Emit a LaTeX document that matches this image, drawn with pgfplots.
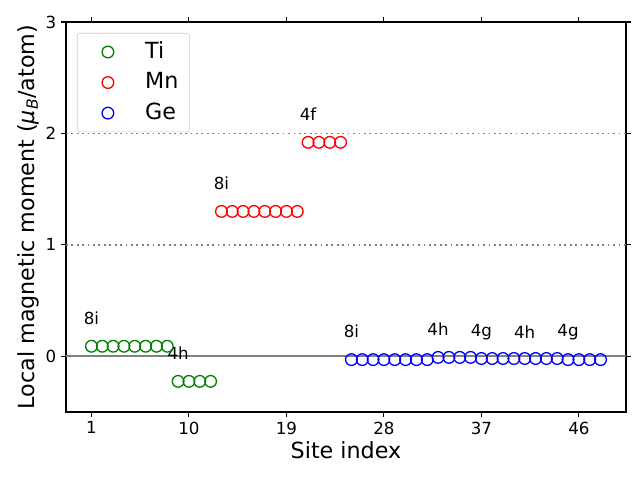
\documentclass[border=0pt]{standalone}
\usepackage{pgfplots}
\pgfplotsset{compat=1.18}
\usepackage{fontspec}
\setmainfont{DejaVu Sans}
\begin{document}
\begin{tikzpicture}
\path[use as bounding box] (-47.52pt,-48.96pt) rectangle (413.28pt,296.64pt);
\begin{axis}[
  at={(0,0)}, anchor=south west,
  scale only axis,
  width=403.2pt, height=280.8pt,
  xmin=-1.35, xmax=50.35, ymin=-0.5, ymax=3,
  xtick={1,10,19,28,37,46},
  ytick={0,1,2,3},
  tick align=outside,
  major tick length=3.5pt,
  tick style={black, line width=0.8pt},
  axis line style={line width=0.8pt},
  ticklabel style={font=\fontsize{12}{14}\selectfont},
  /pgf/number format/assume math mode=true,
  xlabel={Site index},
  ylabel={Local magnetic moment (\textit{μ}\textsubscript{\textit{B}}/atom)},
  label style={font=\fontsize{16}{19}\selectfont},
  xlabel style={yshift=2pt},
  ylabel style={yshift=-2pt},
  legend image code/.code={\path (0pt,0pt) (40pt,0pt); \draw[#1] plot coordinates {(15.6pt,0pt)};},
  legend style={at={(rel axis cs:0,1)}, anchor=north west, xshift=7.9pt, yshift=-7.9pt,
    draw=black!20, rounded corners=2pt, font=\fontsize{16}{19}\selectfont,
    row sep=3pt, inner xsep=6pt, inner ysep=4pt,
    nodes={text height=12pt, text depth=3pt}},
  legend cell align=left,
  clip=false,
]
\addplot[gray, line width=1.2pt, forget plot] coordinates {(-1.35,0) (50.35,0)};
\addplot[gray, line width=1.3pt, dash pattern=on 1.3pt off 2.6pt, forget plot] coordinates {(-1.35,1) (50.35,1)};
\addplot[gray, line width=1.3pt, dash pattern=on 1.3pt off 2.6pt, forget plot] coordinates {(-1.35,2) (50.35,2)};
\addplot[only marks, mark=o, mark size=4.2pt, color={rgb,255:red,0;green,128;blue,0}, line width=0.95pt] coordinates {
 (1,0.09) (2,0.09) (3,0.09) (4,0.09) (5,0.09) (6,0.09) (7,0.09) (8,0.09)
 (9,-0.225) (10,-0.225) (11,-0.225) (12,-0.225)};
\addlegendentry{Ti}
\addplot[only marks, mark=o, mark size=4.2pt, color=red, line width=0.95pt] coordinates {
 (13,1.30) (14,1.30) (15,1.30) (16,1.30) (17,1.30) (18,1.30) (19,1.30) (20,1.30)
 (21,1.92) (22,1.92) (23,1.92) (24,1.92)};
\addlegendentry{Mn}
\addplot[only marks, mark=o, mark size=4.2pt, color=blue, line width=0.95pt] coordinates {
 (25,-0.03) (26,-0.03) (27,-0.03) (28,-0.03) (29,-0.03) (30,-0.03) (31,-0.03) (32,-0.03)
 (33,-0.01) (34,-0.01) (35,-0.01) (36,-0.01)
 (37,-0.02) (38,-0.02) (39,-0.02) (40,-0.02)
 (41,-0.02) (42,-0.02) (43,-0.02) (44,-0.02)
 (45,-0.03) (46,-0.03) (47,-0.03) (48,-0.03)};
\addlegendentry{Ge}
\begin{scope}[every node/.style={font=\fontsize{12}{14}\selectfont, inner sep=0pt}]
\node at (axis cs:1,0.34) {8i};
\node at (axis cs:9,0.025) {4h};
\node at (axis cs:13,1.55) {8i};
\node at (axis cs:21,2.17) {4f};
\node at (axis cs:25,0.22) {8i};
\node at (axis cs:33,0.24) {4h};
\node at (axis cs:37,0.22) {4g};
\node at (axis cs:41,0.22) {4h};
\node at (axis cs:45,0.22) {4g};
\end{scope}
\end{axis}
\end{tikzpicture}
\end{document}
